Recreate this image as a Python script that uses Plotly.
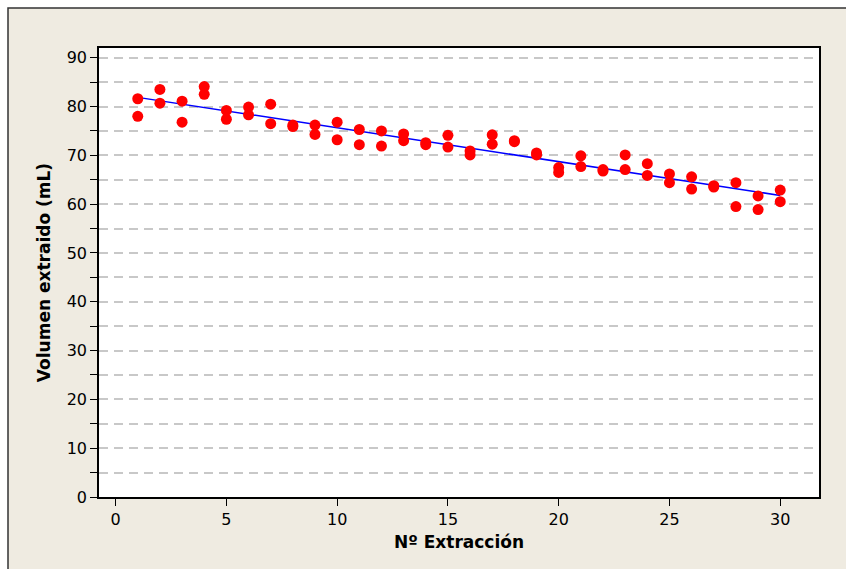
import numpy as np
import plotly.graph_objects as go

# Extraction number (two measurements per extraction)
extraccion = [1, 1, 2, 2, 3, 3, 4, 4, 5, 5, 6, 6, 7, 7, 8, 8, 9, 9, 10, 10,
              11, 11, 12, 12, 13, 13, 14, 14, 15, 15, 16, 16, 17, 17, 18, 18,
              19, 19, 20, 20, 21, 21, 22, 22, 23, 23, 24, 24, 25, 25, 26, 26,
              27, 27, 28, 28, 29, 29, 30, 30]
# Extracted volume (mL)
volumen = [81.6, 78.0, 83.5, 80.7, 81.1, 76.8, 84.1, 82.5, 79.2, 77.4,
           79.9, 78.3, 80.5, 76.5, 76.2, 75.9, 76.2, 74.3, 76.8, 73.2,
           75.3, 72.2, 75.0, 71.9, 74.4, 73.0, 72.6, 72.2, 74.1, 71.7,
           70.9, 70.1, 74.2, 72.3, 73.0, 72.8, 70.5, 70.1, 67.5, 66.5,
           69.9, 67.7, 67.1, 66.8, 70.1, 67.1, 68.3, 65.9, 66.2, 64.4,
           65.6, 63.1, 63.8, 63.5, 64.4, 59.5, 61.7, 58.9, 62.9, 60.5]

y_ticks = [0, 10, 20, 30, 40, 50, 60, 70, 80, 90]
x_ticks = [0, 5, 10, 15, 20, 25, 30]

# Least-squares fitted line
pend, inter = np.polyfit(extraccion, volumen, 1)
x_fit = np.array([min(extraccion), max(extraccion)])
y_fit = pend * x_fit + inter

W, H = 846, 569
L, R, T, B = 99, 27, 48, 72
pw, ph = W - L - R, H - T - B


def px_x(p):
    return (p - L) / pw


def px_y(p):
    return (H - B - p) / ph


fig = go.Figure()
fig.add_trace(go.Scatter(x=x_fit, y=y_fit, mode="lines",
                         line=dict(color="#0000FF", width=1.5),
                         hoverinfo="skip", showlegend=False))
fig.add_trace(go.Scatter(x=extraccion, y=volumen, mode="markers",
                         marker=dict(color="#FF0000", size=11),
                         showlegend=False))

axis_font = dict(family="DejaVu Sans", size=16, color="#000000")
title_font = dict(family="DejaVu Sans", size=17, color="#000000")
grid_dash = "9px,6px"

fig.update_layout(
    width=W, height=H,
    margin=dict(l=L, r=R, t=T, b=B),
    paper_bgcolor="#FFFFFF",
    plot_bgcolor="#FFFFFF",
    shapes=[
        dict(type="rect", xref="paper", yref="paper", layer="below",
             x0=px_x(8), x1=px_x(W + 10), y0=px_y(H + 10), y1=px_y(8),
             fillcolor="#EFEBE1", line=dict(color="#333333", width=1.5)),
        dict(type="rect", xref="paper", yref="paper", layer="below",
             x0=0, x1=1, y0=0, y1=1,
             fillcolor="#FFFFFF", line=dict(width=0)),
    ],
    xaxis=dict(
        range=[-0.75, 31.75], tickvals=x_ticks, ticks="outside", ticklen=7,
        tickcolor="#000000", showgrid=False, zeroline=False,
        showline=True, linecolor="#000000", linewidth=1.5, mirror=True,
        tickfont=axis_font,
        title=dict(text="<b>Nº Extracción</b>", font=title_font, standoff=8),
    ),
    yaxis=dict(
        range=[0, 92], tickvals=y_ticks, ticks="outside", ticklen=7,
        tickcolor="#000000", showgrid=True, gridcolor="#C8C8C8",
        griddash=grid_dash, gridwidth=1.6, zeroline=False,
        showline=True, linecolor="#000000", linewidth=1.5, mirror=True,
        tickfont=axis_font,
        minor=dict(dtick=5, tick0=0, ticks="outside", ticklen=7,
                   tickcolor="#000000", showgrid=True, gridcolor="#C8C8C8",
                   griddash=grid_dash, gridwidth=1.6),
        title=dict(text="<b>Volumen extraido (mL)</b>", font=title_font,
                   standoff=12),
    ),
)

fig.write_html("out.html")
